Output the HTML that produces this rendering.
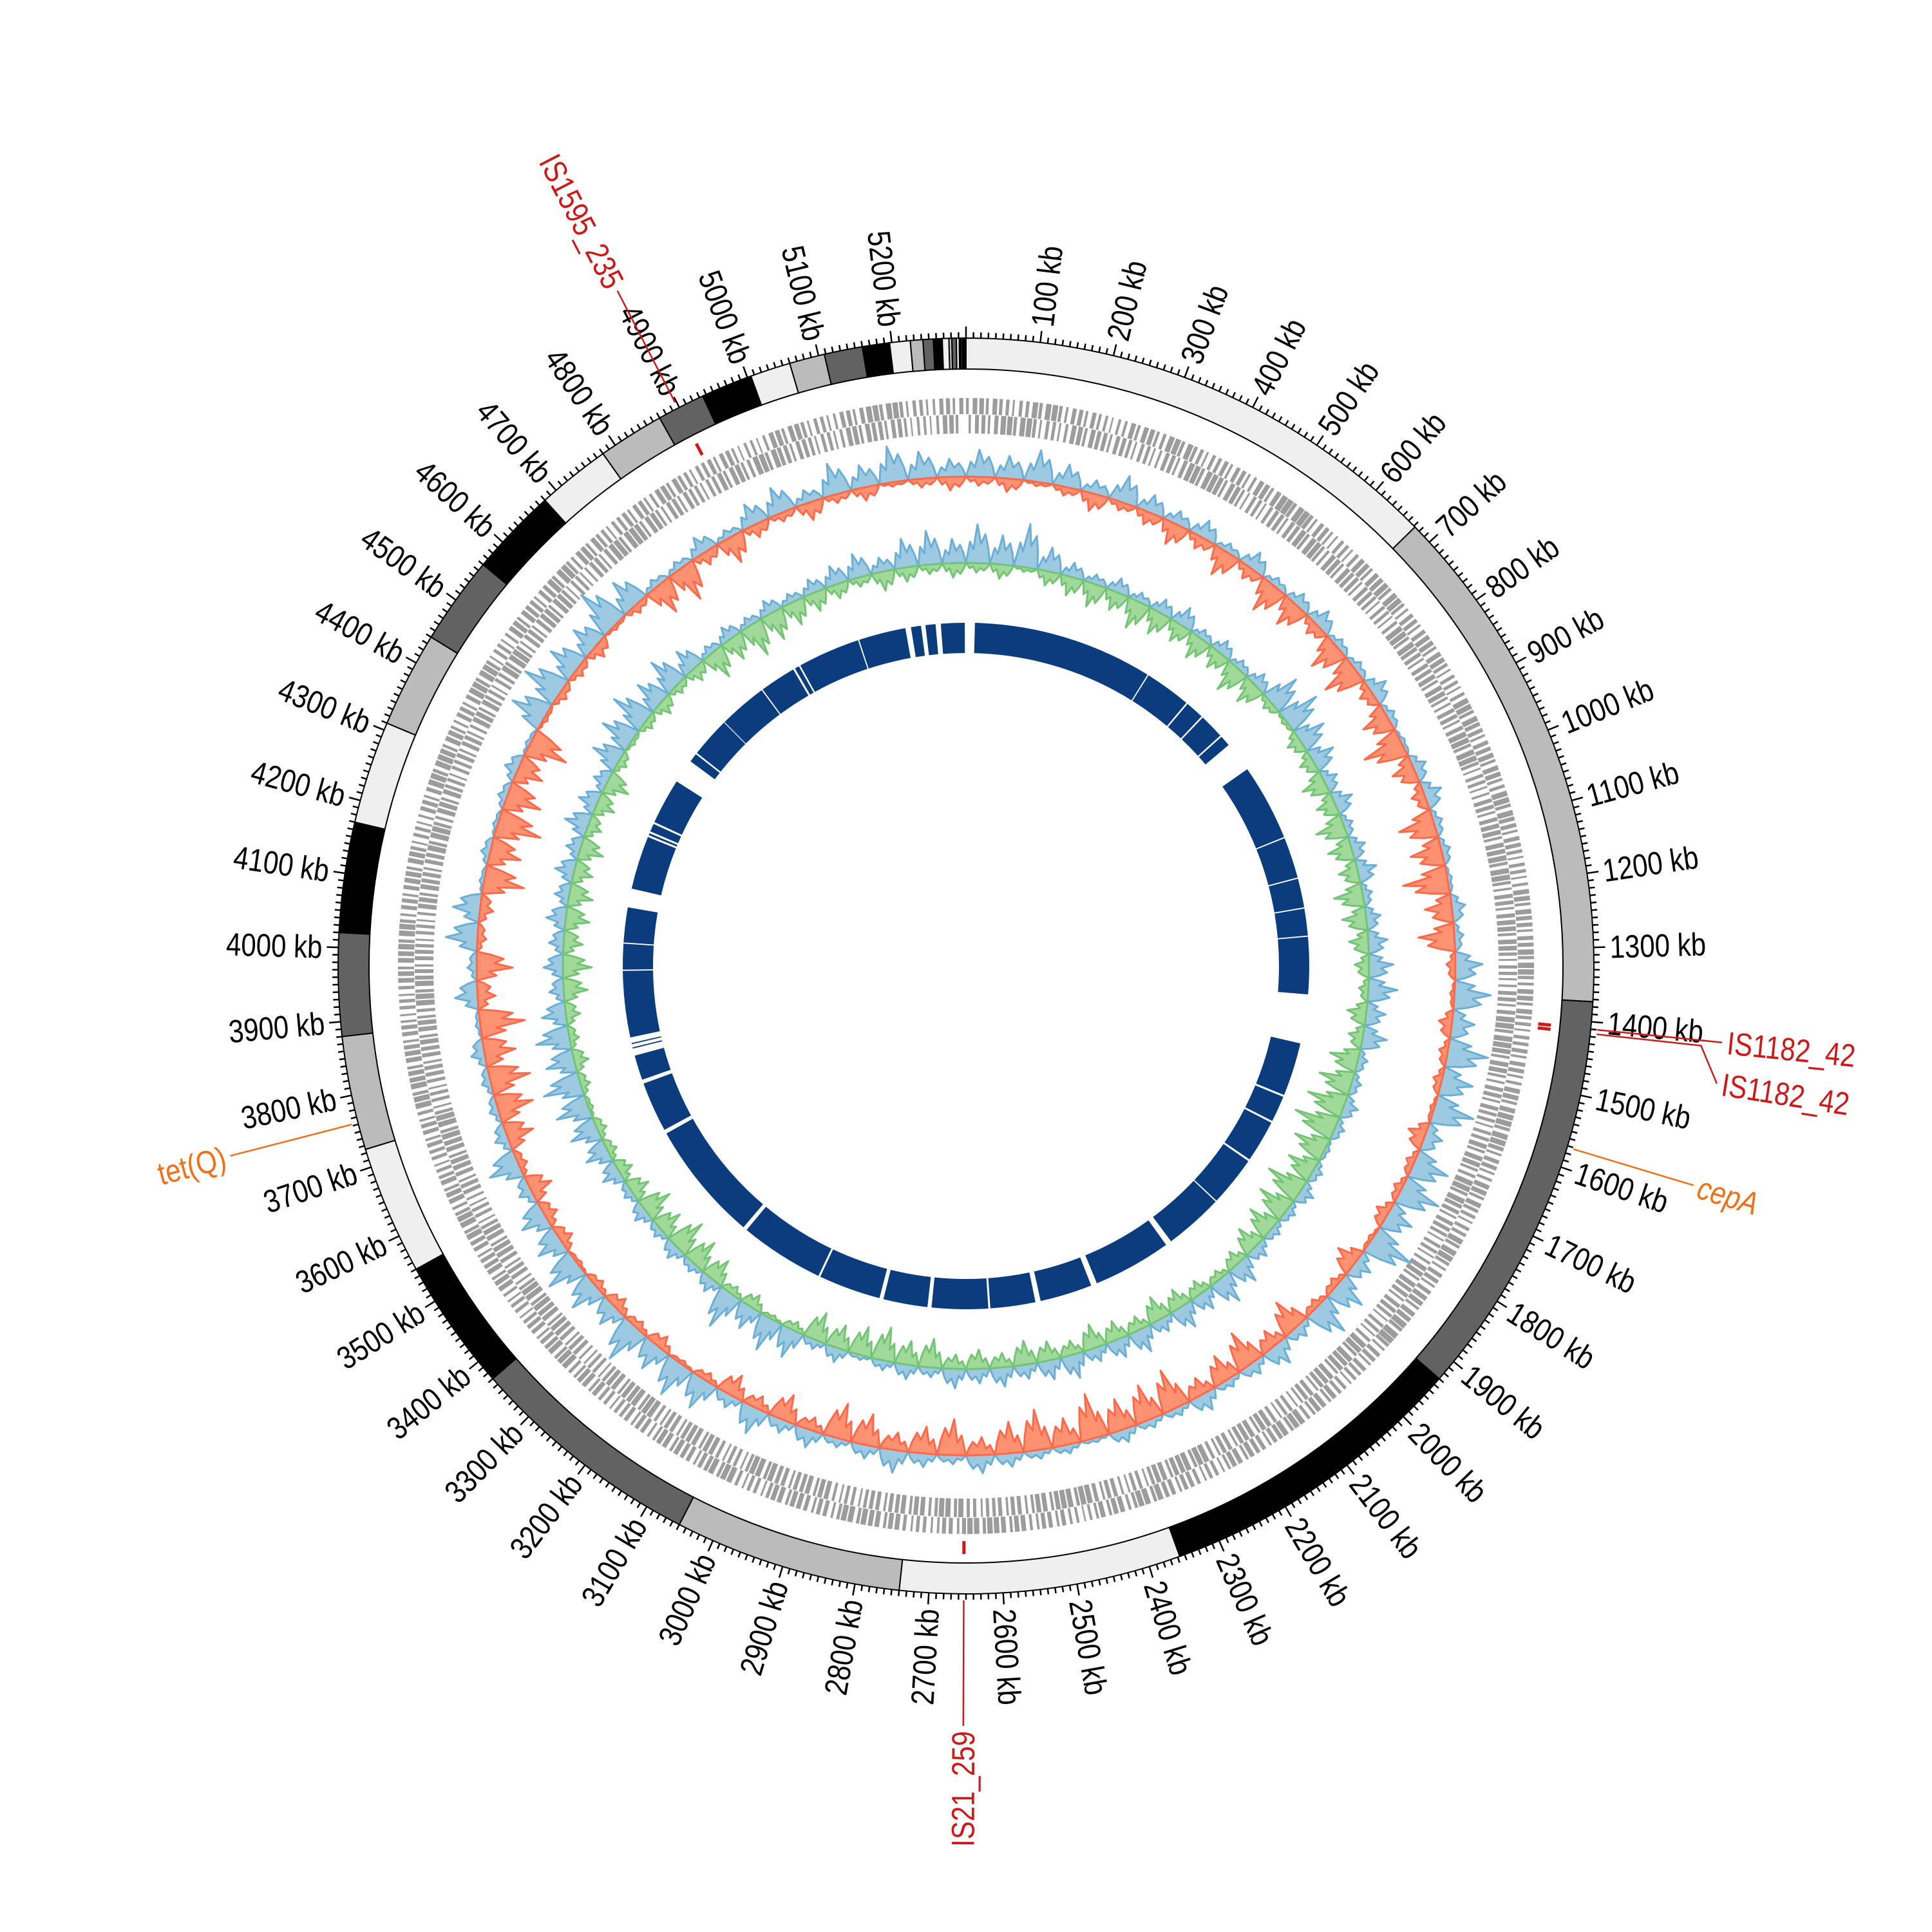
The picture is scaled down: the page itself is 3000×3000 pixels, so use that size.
<!DOCTYPE html>
<html><head><meta charset="utf-8"><style>
html,body{margin:0;padding:0;background:#fff;}
svg{display:block;}
text{font-family:"Liberation Sans",sans-serif;}
</style></head><body>
<svg id="chart" xmlns="http://www.w3.org/2000/svg" width="3000" height="3000" viewBox="0 0 3000 3000">
<rect width="3000" height="3000" fill="#fff"/>
</svg>
<script>
const genomeLength = 5300;
const bandStarts = [0,672,1373,1930,2357,2740,3050,3370,3550,3725,3880,4020,4170,4310,4440,4560,4680,4780,4870,4935,5005,5060,5108,5160,5197,5225,5242,5256,5268,5277,5281,5287,5291,5293,5295];
const bandEnds   = [672,1373,1930,2357,2740,3050,3370,3550,3725,3880,4020,4170,4310,4440,4560,4680,4780,4870,4935,5005,5060,5108,5160,5197,5225,5242,5256,5268,5277,5281,5287,5291,5293,5295,5300];
const bandShade  = ["L","G","D","B","L","G","D","B","L","G","D","B","L","G","D","B","L","G","D","B","L","G","D","B","L","G","D","B","L","G","D","L","B","L","B"];
const contigStarts = [22,473,592,642,708,810,1003,1108,1183,1253,1517,1655,1725,1835,1963,2125,2335,2478,2595,2745,2865,3025,3245,3555,3690,3770,3781,3798,3966,4033,4167,4305,4315,4340,4514,4540,4642,4765,4860,4875,5033,5164,5200,5238];
const contigEnds   = [470,588,638,704,735,1000,1105,1180,1250,1395,1650,1720,1830,1960,2110,2320,2465,2590,2735,2855,3020,3235,3545,3680,3752,3773,3784,3963,4030,4120,4300,4310,4335,4454,4536,4640,4762,4855,4871,5030,5150,5189,5225,5297];
const geneFwd = [.7,.5,.8,.6,.4,.7,.8,.5,.6,.7,.9,.6,.5,.7,.8,.6,.7,.5,.8,.6,.7,.8,.6,.5,.7,.6,.8,.7,.5,.6,.7,.8,.6,.7,.5,.8,.6,.7,.9,.6,.5,.7,.8,.6,.7,.5,.6,.8,.7,.4,.6,.7,.8,.6,.5,.7,.8,.6,.7,.5,.8,.6,.7,.6,.5,.7,.8,.6,.5,.7,.6,.8,.7,.5,.6,.8,.7,.6,.5,.7,.8,.6,.7,.5,.6,.8,.7,.6,.8,.5,.7,.6,.8,.7,.5,.6,.7,.5,.6,.4,.7,.5,.6,.8,.5,.6];
const geneRev = [.6,.8,.5,.7,.6,.5,.6,.8,.7,.5,.6,.8,.7,.6,.5,.8,.6,.7,.6,.8,.5,.6,.7,.8,.6,.7,.5,.6,.8,.7,.6,.5,.7,.8,.6,.5,.7,.6,.5,.8,.7,.6,.5,.7,.6,.8,.7,.5,.6,.8,.7,.6,.5,.8,.7,.6,.5,.7,.6,.8,.5,.7,.6,.8,.7,.5,.6,.7,.8,.6,.7,.5,.6,.7,.8,.5,.6,.7,.8,.6,.5,.7,.6,.8,.7,.5,.6,.7,.5,.8,.6,.7,.5,.6,.8,.7,.6,.5,.7,.8,.6,.5,.7,.6,.4,.7];
const skewHi = [.6,.5,.7,.5,.3,.6,.4,.3,.4,.2,.4,.2,.3,.4,.2,.2,.4,.2,.1,.3,.4,.2,.2,.1,.3,.2,.6,.8,.5,.9,.7,.9,.4,.8,.9,.6,1.0,.4,.7,.8,.3,.5,.3,.2,.4,.2,.2,.3,.1,.2,.2,.3,.4,.2,.3,.5,.3,.2,.4,.3,.6,.3,.7,.8,.6,.9,.5,.7,.8,.6,.6,.3,.7,.3,.2,.2,.3,.1,.5,.2,.7,.6,.1,.2,.1,.2,.3,.1,.8,.9,.7,.6,1.0,.7,.2,.2,.4,.2,.5,.6,.3,.7,.5,.8,.6,.4];
const skewLo = [.2,.3,.1,.2,.4,.2,.3,.5,.3,.6,.3,.7,.6,.3,.7,.8,.3,.6,.9,.5,.3,.8,.7,1.0,.6,.8,.2,.1,.3,.2,.2,.1,.4,.2,.2,.3,.1,.5,.2,.2,.7,.4,.8,.6,.4,.9,.8,.7,1.0,.6,.9,.7,.4,.8,.6,.4,.7,.8,.3,.6,.3,.5,.2,.1,.3,.2,.3,.2,.1,.3,.3,.5,.2,.6,.8,.9,.7,1.0,.4,.8,.2,.3,.9,.7,1.0,.8,.6,.9,.1,.2,.2,.3,.1,.2,.7,.8,.3,.6,.3,.2,.4,.2,.3,.1,.2,.3];
const gcHi = [.8,.6,.9,.5,.3,.2,.3,.2,.3,.4,.2,.3,.2,.3,.7,.8,.6,.5,.3,.4,.2,.3,.4,.2,.3,.4,.5,.6,.4,.5,.2,.2,.3,.2,.1,.2,.3,.2,.2,.3,.5,.6,.4,.5,.3,.5,.4,.3,.5,.4,.3,.4,.3,.4,.2,.3,.2,.1,.3,.2,.6,.7,.5,.8,.3,.2,.3,.2,.3,.2,.4,.5,.6,.7,.8,.6,.7,.5,.3,.4,.3,.4,.3,.4,.3,.5,.4,.3,.6,.7,.8,.6,.7,.5,.2,.3,.2,.3,.2,.3,.4,.5,.3,.6,.7,.5];
const gcLo = [.2,.3,.1,.3,.4,.5,.4,.6,.5,.4,.5,.4,.6,.5,.2,.1,.3,.3,.5,.4,.6,.5,.4,.6,.5,.4,.3,.2,.4,.3,.6,.7,.8,.9,.7,.6,.8,.7,.6,.5,.3,.2,.3,.4,.5,.3,.4,.5,.3,.4,.5,.3,.4,.3,.6,.5,.7,.6,.5,.6,.2,.1,.3,.2,.5,.6,.7,.5,.6,.4,.3,.2,.2,.1,.2,.3,.2,.3,.5,.6,.4,.5,.5,.4,.5,.3,.4,.5,.2,.1,.2,.3,.2,.3,.6,.5,.7,.6,.5,.4,.3,.2,.4,.3,.2,.3];
const markerNames = ["IS1595_235","IS1182_42","IS1182_42","IS21_259","cepA","tet(Q)"];
const markerPos   = [4898,1410,1416,2653,1572,3762];
const markerKind  = ["is","is","is","is","arg","arg"];

const NS="http://www.w3.org/2000/svg";
const svg=document.getElementById('chart');
const CX=1500, CY=1500;
const BIN=50;
function ang(kb){return kb/genomeLength*2*Math.PI;}
function pt(r,kb){const a=ang(kb);return [CX+r*Math.sin(a),CY-r*Math.cos(a)];}
function deg(kb){return kb/genomeLength*360;}
function mk(tag,attrs,parent){const e=document.createElementNS(NS,tag);for(const k in attrs)e.setAttribute(k,attrs[k]);(parent||svg).appendChild(e);return e;}
function sector(r0,r1,k0,k1){
  const large=(k1-k0)/genomeLength>0.5?1:0;
  const a=pt(r1,k0),b=pt(r1,k1),c=pt(r0,k1),d=pt(r0,k0);
  return `M${a[0]},${a[1]}A${r1},${r1} 0 ${large} 1 ${b[0]},${b[1]}L${c[0]},${c[1]}A${r0},${r0} 0 ${large} 0 ${d[0]},${d[1]}Z`;
}
const shadeColor={L:"#efefef",G:"#bbbbbb",D:"#626262",B:"#000000"};

// karyotype bands
const gBands=mk('g',{});


for(let i=0;i<bandStarts.length;i++){
  const p=mk('path',{d:sector(927,975,bandStarts[i],bandEnds[i]),fill:shadeColor[bandShade[i]],stroke:"#000","stroke-width":2},gBands);
  
  
}

// ticks
const gTicks=mk('g',{stroke:"#000","stroke-width":2.5});


for(let k=0;k<genomeLength;k+=10){
  const major=k%100===0;
  const a=pt(975,k),b=pt(major?993:984,k);
  const l=mk('line',{x1:a[0],y1:a[1],x2:b[0],y2:b[1]},gTicks);
  
  
}
// tick labels
for(let k=100;k<genomeLength;k+=100){
  const d=deg(k);const p=pt(1000,k);
  const right=d<180;
  const rot=right?d-90:d+90;
  const t=mk('text',{transform:`translate(${p[0]},${p[1]}) rotate(${rot}) scale(0.84,1)`,'font-size':50,'text-anchor':right?'start':'end','dominant-baseline':'central',fill:"#000"});
  t.textContent=k+" kb";
  
  
}

// genes
const gGenes=mk('g',{fill:"#9c9c9c"});


function geneStrand(arr,r0,r1,offset){
  for(let i=0;i<arr.length;i++){
    for(let s=0;s<5;s++){
      const k0=i*BIN+s*10+offset;const w=arr[i]*10*((s+i)%3===0?0.6:1);
      if(k0+w>genomeLength)continue;
      const p=mk('path',{d:sector(r0,r1,k0,k0+w)},gGenes);
      
      
    }
  }
}
geneStrand(geneFwd,857,882,0);
geneStrand(geneRev,827,856,4);

// track helper
function track(hi,lo,base,amp,hiFill,hiLine,loFill,loLine,name){
  const g=mk('g',{});
  
  
  function spike(i,v,dir,fill,line){
    const k0=i*BIN,k1=(i+1)*BIN;
    const ks=[k0,k0+8,k0+15,k0+22,k0+30,k0+38,k0+45,k1];
    const fr=[0,0.55,0.35,1,0.5,0.75,0.4,0];
    let pts=[];
    for(let j=0;j<ks.length;j++){const q=pt(base+dir*amp*v*fr[j],ks[j]);pts.push(q.join(','));}
    const poly=mk('polygon',{points:pts.join(' '),fill:fill,stroke:line,'stroke-width':3,'stroke-linejoin':'round'},g);
    
    
  }
  for(let i=0;i<hi.length;i++){spike(i,hi[i],1,hiFill,hiLine);spike(i,lo[i],-1,loFill,loLine);}
}
track(skewHi,skewLo,760,70,"#9ecae1","#6baed6","#fc9272","#fb6a4a","gc-skew-track");
track(gcHi,gcLo,626,75,"#9ecae1","#6baed6","#a1d99b","#74c476","gc-content-track");

// contigs
const gCont=mk('g',{fill:"#0b3d7e"});


for(let i=0;i<contigStarts.length;i++){
  const p=mk('path',{d:sector(486,533,contigStarts[i],contigEnds[i])},gCont);
  
  
}

// markers
for(let i=0;i<markerNames.length;i++){
  const k=markerPos[i];const isIS=markerKind[i]==="is";
  const col=isIS?"#cc1a1a":"#f07018";
  const g=mk('g',{});
  
  
  if(isIS){
    const a=pt(893,k),b=pt(913,k);
    mk('line',{x1:a[0],y1:a[1],x2:b[0],y2:b[1],stroke:col,'stroke-width':5},g);
  }
  let rEnd=1180, kText=k;
  if(i===2){kText=k+40;}
  const a=pt(985,k),b=pt(1148,k),c=pt(rEnd,kText);
  mk('polyline',{points:`${a.join(',')} ${b.join(',')} ${c.join(',')}`,fill:"none",stroke:col,'stroke-width':2.5},g);
  const d=deg(kText);const right=d<180;
  const tp=pt(rEnd+8,kText);
  const t=mk('text',{transform:`translate(${tp[0]},${tp[1]}) rotate(${right?d-90:d+90}) scale(0.84,1)`,'font-size':50,'text-anchor':right?'start':'end','dominant-baseline':'central',fill:col,'font-style':(i===4)?'italic':'normal'},g);
  t.textContent=markerNames[i];
  
  
}
</script>
</body></html>
